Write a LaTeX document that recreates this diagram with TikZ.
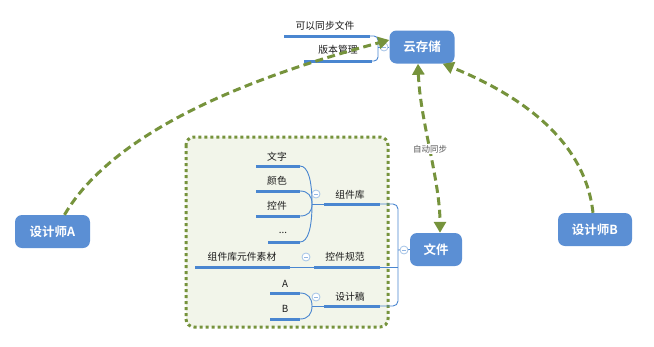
\documentclass[tikz,border=0pt]{standalone}
\usepackage{fontspec}
\setmainfont{Liberation Sans}
\newfontfamily\cjk{Noto Sans CJK SC}[BoldFont={Noto Sans CJK SC Bold}]
\usetikzlibrary{arrows.meta}
\definecolor{nodeblue}{HTML}{5B8FD4}
\definecolor{lineblue}{HTML}{4A86D0}
\definecolor{olive}{HTML}{76933C}
\definecolor{boxfill}{HTML}{F2F5EA}
\definecolor{txt}{HTML}{1A1A1A}
\begin{document}
\begin{tikzpicture}[x=1pt,y=-1pt,
  bigbox/.style={fill=nodeblue,rounded corners=7pt,text=white,font=\cjk\bfseries\fontsize{12.5}{14}\selectfont,inner sep=0pt},
  lbl/.style={text=txt,font=\cjk\fontsize{9.8}{11}\selectfont,inner sep=1pt},
  uline/.style={draw=lineblue,line width=3pt},
  thin/.style={draw=lineblue,line width=0.9pt},
  flow/.style={draw=olive,line width=3pt,dash pattern=on 8pt off 4.5pt,-{Triangle[length=11pt,width=12pt]}},
  flow2/.style={draw=olive,line width=3pt,dash pattern=on 8pt off 4.5pt,{Triangle[length=11pt,width=12pt]}-{Triangle[length=11pt,width=12pt]}},
  coll/.style={circle,draw=lineblue!50,fill=white,line width=0.8pt,minimum size=8pt,inner sep=0pt,
    path picture={\draw[lineblue!60,line width=0.7pt] ([xshift=-2pt]path picture bounding box.center) -- ([xshift=2pt]path picture bounding box.center);}}
]
\useasboundingbox (0,0) rectangle (654,346);

% green dotted group
\draw[olive,line width=3pt,dash pattern=on 3pt off 3pt,fill=boxfill,rounded corners=8pt] (186,137) rectangle (388,327);

% main nodes
\node[bigbox,minimum width=65pt,minimum height=33pt] (cloud) at (422,47) {云存储};
\node[bigbox,minimum width=52pt,minimum height=33pt] (file) at (436,249.5) {文件};
\node[bigbox,minimum width=75pt,minimum height=33pt] (da) at (52.5,231.5) {设计师A};
\node[bigbox,minimum width=74pt,minimum height=33pt] (db) at (595,229.5) {设计师B};

% cloud children
\node[lbl] (sync) at (325,26) {可以同步文件};
\node[lbl] (ver) at (338,50) {版本管理};
\coordinate (c1a) at (284,36); \coordinate (c1b) at (370,36);
\coordinate (c2a) at (304,61); \coordinate (c2b) at (372,61);
\draw[uline] (c1a) -- (c1b);
\draw[uline] (c2a) -- (c2b);
\draw[thin] (c1b) -- (374,36) arc[start angle=-90,end angle=0,radius=4] -- (378,57) arc[start angle=0,end angle=90,radius=4] -- (c2b);
\draw[thin] (378,47) -- (cloud.west);
\node[coll] (cc) at (384,47) {};

% component library group
\node[lbl] (wz) at (277,157) {文字};
\node[lbl] (ys) at (277,181) {颜色};
\node[lbl] (kj) at (277,206) {控件};
\node[lbl] (dots) at (283,233) {...};
\foreach \y in {166,191,216} {\draw[uline] (256,\y) -- (300,\y);}
\draw[uline] (268,242) -- (300,242);
\coordinate (j1) at (312,204);
\draw[thin] (300,166) .. controls (308,166) and (312,180) .. (j1);
\draw[thin] (300,191) .. controls (308,191) and (312,196) .. (j1);
\draw[thin] (300,216) .. controls (308,216) and (312,212) .. (j1);
\draw[thin] (300,242) .. controls (308,242) and (312,228) .. (j1);
\draw[thin] (j1) -- (324,204);
\node[coll] (c1) at (316,194) {};
\node[lbl] (zjk) at (350,195) {组件库};
\draw[uline] (324,204) -- (380,204);

% spec
\node[lbl] (yjsc) at (242,257) {组件库元件素材};
\draw[uline] (195,267) -- (290,267);
\draw[thin] (290,267) -- (314,267);
\node[coll] (c2) at (306,257) {};
\node[lbl] (kjgf) at (345,257) {控件规范};
\draw[uline] (314,267) -- (380,267);

% design
\node[lbl] (la) at (285,284) {A};
\node[lbl] (lb) at (285,309) {B};
\draw[uline] (270,293) -- (300,293);
\draw[uline] (270,319) -- (300,319);
\coordinate (j3) at (312,306);
\draw[thin] (300,293) .. controls (308,293) and (312,298) .. (j3);
\draw[thin] (300,319) .. controls (308,319) and (312,314) .. (j3);
\draw[thin] (j3) -- (324,306);
\node[coll] (c3) at (316,297) {};
\node[lbl] (sjg) at (350,297) {设计稿};
\draw[uline] (324,306) -- (380,306);

% bracket to file
\draw[thin] (380,204) -- (393,204) arc[start angle=-90,end angle=0,radius=5] -- (398,301) arc[start angle=0,end angle=90,radius=5] -- (380,306);
\draw[thin] (380,267) -- (398,267);
\draw[thin] (398,250) -- (file.west);
\node[coll] (cf) at (404,250) {};

% green arrows
\coordinate (sa) at ([xshift=12pt]da.north);
\draw[flow] (sa) .. controls (120,120) and (285,68) .. ([yshift=7pt]cloud.west);
\draw[flow] ([xshift=-2pt]db.north) .. controls (585,140) and (520,95) .. ([xshift=-12pt]cloud.south east);
\draw[flow2] ([xshift=-4pt]cloud.south) .. controls (420,120) and (440,180) .. ([xshift=4pt]file.north);
\node[fill=white,text=black!65,font=\cjk\fontsize{8.5}{10}\selectfont,inner sep=1pt] (auto) at (430,149) {自动同步};
\end{tikzpicture}
\end{document}
